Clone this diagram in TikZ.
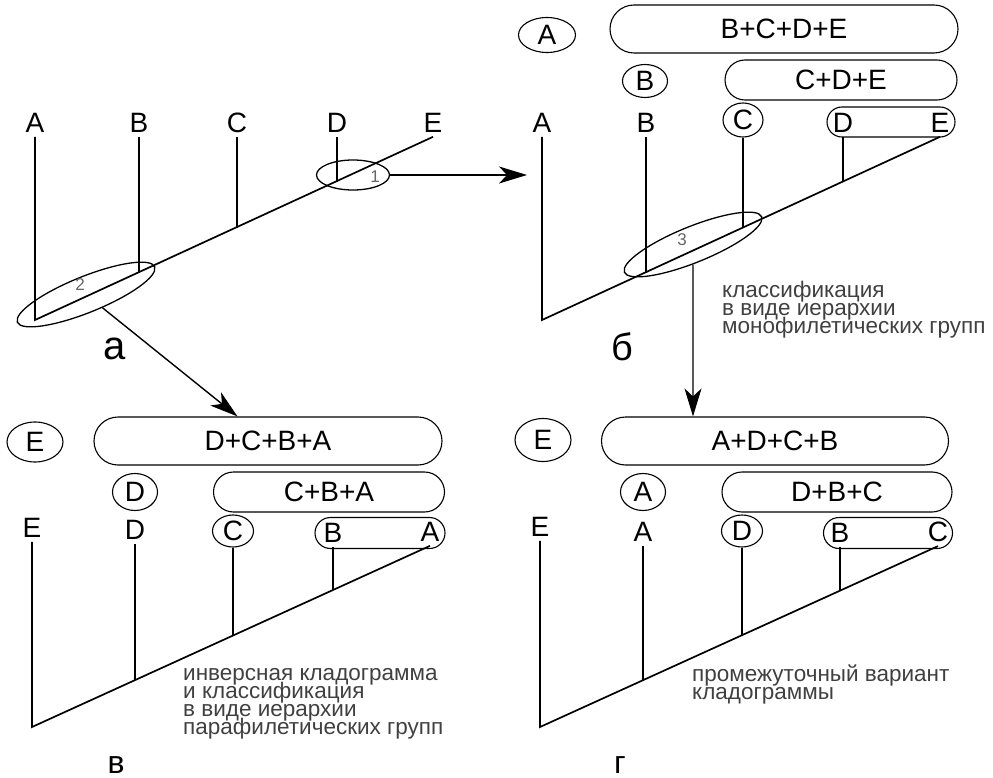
\documentclass[tikz,border=0pt]{standalone}
\usepackage{fontspec}
\setmainfont{Liberation Sans}
\usetikzlibrary{shapes.geometric,arrows.meta}
\newcommand\notefont{\fontsize{22.5}{18}\selectfont\lineskiplimit=-30pt\relax}
\tikzset{
	tree/.style={line width=1.7pt},
	leaf/.style={font=\fontsize{28}{30}\selectfont, inner sep=4pt},
	oval/.style={leaf, draw, ellipse, line width=1.1pt, inner sep=0pt},
	capsule/.style={leaf, draw, rectangle, line width=1.1pt, inner sep=0pt, rounded corners=#1, minimum height=2*#1},
	ring/.style={draw, ellipse, line width=1.3pt, inner sep=0pt},
	num/.style={font=\fontsize{17}{17}\selectfont, text=black!60},
	note/.style={font=\notefont, text=black!75, align=left, inner sep=0pt},
	panel/.style={font=\fontsize{#1}{#1}\selectfont, inner sep=0pt},
	bigarrow/.style={line width=1.4pt, -{Stealth[length=28pt, width=17pt, inset=8pt]}}
}
\begin{document}
\begin{tikzpicture}[x=1pt, y=-1pt]
	\useasboundingbox (0,0) rectangle (993,778);
	% a
	\node[leaf] (aA) at (35,123) {A};
	\node[leaf] (aB) at (139,123) {B};
	\node[leaf] (aC) at (237,123) {C};
	\node[leaf] (aD) at (337,123) {D};
	\node[leaf] (aE) at (433,123) {E};
	\coordinate (a0) at (35,320);
	\coordinate (a1) at (139,273);
	\coordinate (a2) at (237,228);
	\coordinate (a3) at (337,182);
	\draw[tree] (aA) -- (a0) -- (aE.south);
	\draw[tree] (aB) -- (a1);
	\draw[tree] (aC) -- (a2);
	\draw[tree] (aD) -- (a3);
	\node[ring, minimum width=73pt, minimum height=30pt] (e1) at (353,175) {};
	\node[ring, minimum width=148pt, minimum height=36pt, rotate=22] (e2) at (86,294.5) {};
	\node[num] at (375,177) {1};
	\node[num] at (80,285) {2};
	\node[panel=40] (la) at (115,349) {а};
	% b
	\node[oval, minimum width=57pt, minimum height=35pt] (bgA) at (547,35) {A};
	\node[capsule=24pt, minimum width=348pt] (bBCDE) at (784,29) {B+C+D+E};
	\node[oval, minimum width=45pt, minimum height=33pt] (bgB) at (645,81) {B};
	\node[capsule=20pt, minimum width=232pt] (bCDE) at (841,80) {C+D+E};
	\node[leaf] (bA) at (542,123) {A};
	\node[leaf] (bB) at (646,123) {B};
	\node[oval, minimum width=40pt, minimum height=34pt] (bC) at (743,120) {C};
	\node[leaf] (bD) at (843,123) {D};
	\node[leaf] (bE) at (940,123) {E};
	\node[capsule=15pt, minimum width=128pt] (bDE) at (891,122) {};
	\coordinate (b0) at (542,320);
	\coordinate (b1) at (646,273);
	\coordinate (b2) at (743,228);
	\coordinate (b3) at (843,182);
	\draw[tree] (bA) -- (b0) -- (bE.south);
	\draw[tree] (bB) -- (b1);
	\draw[tree] (bC) -- (b2);
	\draw[tree] (bD) -- (b3);
	\node[ring, minimum width=148pt, minimum height=36pt, rotate=22] (e3) at (693,244.5) {};
	\node[num] at (682,240) {3};
	\node[note, anchor=north west] (tb) at (722,281) {классификация\\в виде иерархии\\монофилетических групп};
	\node[panel=38] (lb) at (622,347) {б};
	% v
	\node[oval, minimum width=56pt, minimum height=40pt] (vgE) at (35,442) {E};
	\node[capsule=24pt, minimum width=348pt] (vDCBA) at (268,441) {D+C+B+A};
	\node[oval, minimum width=45pt, minimum height=37pt] (vgD) at (135,492) {D};
	\node[capsule=20pt, minimum width=231pt] (vCBA) at (329,492) {C+B+A};
	\node[leaf] (vE) at (32,528) {E};
	\node[leaf] (vD) at (135,530) {D};
	\node[oval, minimum width=41pt, minimum height=32pt] (vC) at (233,531) {C};
	\node[leaf] (vB) at (333,533) {B};
	\node[leaf] (vA) at (430,532) {A};
	\node[capsule=15.5pt, minimum width=130pt] (vBA) at (380,533) {};
	\coordinate (v0) at (32,727);
	\coordinate (v1) at (135,680);
	\coordinate (v2) at (233,635);
	\coordinate (v3) at (333,590);
	\draw[tree] (vE) -- (v0) -- (vA.south);
	\draw[tree] (vD) -- (v1);
	\draw[tree] (vC) -- (v2);
	\draw[tree] (vB) -- (v3);
	\node[note, anchor=north west] (tv) at (183,668) {инверсная кладограмма\\и классификация\\в виде иерархии\\парафилетических групп};
	\node[panel=32] (lv) at (116,765) {в};
	% g
	\node[oval, minimum width=56pt, minimum height=43pt] (ggE) at (543,440) {E};
	\node[capsule=24pt, minimum width=347pt] (gADCB) at (775,441) {A+D+C+B};
	\node[oval, minimum width=45pt, minimum height=37pt] (ggA) at (643,492) {A};
	\node[capsule=20pt, minimum width=230pt] (gDBC) at (837,492) {D+B+C};
	\node[leaf] (gE) at (540,527) {E};
	\node[leaf] (gA) at (643,532) {A};
	\node[oval, minimum width=41pt, minimum height=32pt] (gD) at (742,531) {D};
	\node[leaf] (gB) at (840,533) {B};
	\node[leaf] (gC) at (938,532) {C};
	\node[capsule=15.5pt, minimum width=129pt] (gBC) at (888,533) {};
	\coordinate (g0) at (540,727);
	\coordinate (g1) at (643,680);
	\coordinate (g2) at (742,635);
	\coordinate (g3) at (840,590);
	\draw[tree] (gE) -- (g0) -- (gC.south);
	\draw[tree] (gA) -- (g1);
	\draw[tree] (gD) -- (g2);
	\draw[tree] (gB) -- (g3);
	\node[note, anchor=north west] (tg) at (692,665) {промежуточный вариант\\кладограммы};
	\node[panel=32] (lg) at (620,765) {г};
	% arrows
	\coordinate (p1) at (527,175);
	\draw[bigarrow] (e1) -- (p1);
	\draw[bigarrow] (e2) -- (vDCBA);
	\draw[bigarrow] (e3) -- (e3 |- gADCB.north);
\end{tikzpicture}
\end{document}
